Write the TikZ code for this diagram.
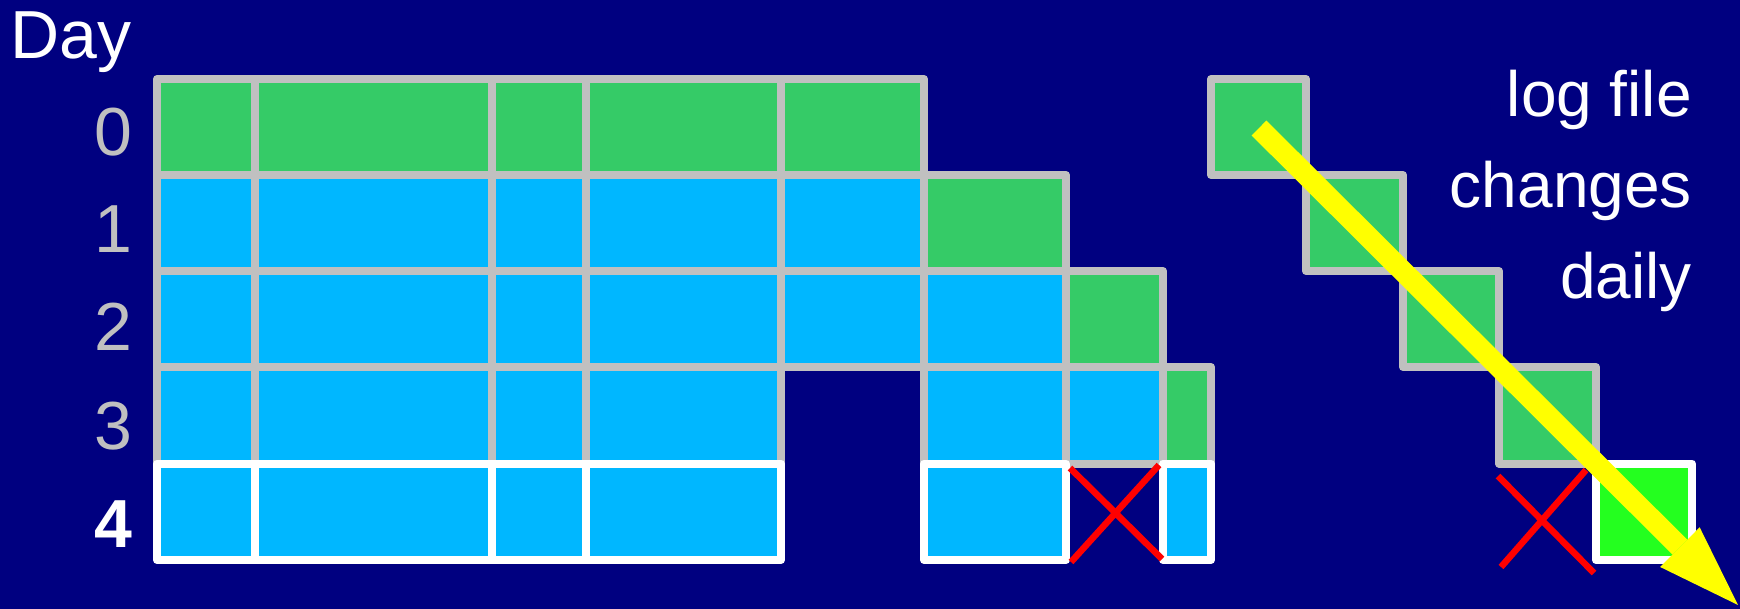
\documentclass[tikz,border=0pt]{standalone}
\usepackage{fontspec}
\setmainfont{Liberation Sans}
\usetikzlibrary{arrows.meta}
\definecolor{navybg}{RGB}{0,0,128}
\definecolor{cellgreen}{RGB}{53,203,103}
\definecolor{cellblue}{RGB}{0,183,255}
\definecolor{gridgray}{RGB}{192,192,192}
\definecolor{newgreen}{RGB}{36,255,31}
\definecolor{arrowyellow}{RGB}{255,255,0}
\newcommand{\cellbox}[6]{%
  \node[#6, minimum width={(#4)-(#2)}, minimum height={(#5)-(#3)}] (#1) at ({((#2)+(#4))/2},{((#3)+(#5))/2}) {};}
\tikzset{
  gcell/.style={draw=gridgray, line width=8pt, inner sep=0pt, outer sep=0pt, line join=round, rectangle},
  wcell/.style={draw=white, line width=8pt, inner sep=0pt, outer sep=0pt, line join=round, rectangle},
  gfill/.style={fill=cellgreen},
  bfill/.style={fill=cellblue},
  nfill/.style={fill=newgreen},
  cross/.style={draw=red, line width=6.5pt},
  daylabel/.style={text=gridgray, anchor=base east, inner sep=0pt, font=\fontsize{68}{80}\selectfont},
  sidetext/.style={text=white, anchor=base east, inner sep=0pt, font=\fontsize{64}{76}\selectfont},
  bigarrow/.style={draw=arrowyellow, line width=21pt, -{Triangle[length=82pt,width=56pt,line width=0pt]}}
}
\begin{document}
\begin{tikzpicture}[x=1pt,y=-1pt]
\useasboundingbox (0,0) rectangle (1740,609);
\fill[navybg] (0,0) rectangle (1740,609);
% row 0
\cellbox{r0c0}{157}{79}{255}{175}{gcell,gfill}
\cellbox{r0c1}{255}{79}{492}{175}{gcell,gfill}
\cellbox{r0c2}{492}{79}{586}{175}{gcell,gfill}
\cellbox{r0c3}{586}{79}{781}{175}{gcell,gfill}
\cellbox{r0c4}{781}{79}{924}{175}{gcell,gfill}
% row 1
\cellbox{r1c0}{157}{175}{255}{271}{gcell,bfill}
\cellbox{r1c1}{255}{175}{492}{271}{gcell,bfill}
\cellbox{r1c2}{492}{175}{586}{271}{gcell,bfill}
\cellbox{r1c3}{586}{175}{781}{271}{gcell,bfill}
\cellbox{r1c4}{781}{175}{924}{271}{gcell,bfill}
\cellbox{r1c5}{924}{175}{1066}{271}{gcell,gfill}
% row 2
\cellbox{r2c0}{157}{271}{255}{367}{gcell,bfill}
\cellbox{r2c1}{255}{271}{492}{367}{gcell,bfill}
\cellbox{r2c2}{492}{271}{586}{367}{gcell,bfill}
\cellbox{r2c3}{586}{271}{781}{367}{gcell,bfill}
\cellbox{r2c4}{781}{271}{924}{367}{gcell,bfill}
\cellbox{r2c5}{924}{271}{1066}{367}{gcell,bfill}
\cellbox{r2c6}{1066}{271}{1163}{367}{gcell,gfill}
% row 3
\cellbox{r3c0}{157}{367}{255}{463.5}{gcell,bfill}
\cellbox{r3c1}{255}{367}{492}{463.5}{gcell,bfill}
\cellbox{r3c2}{492}{367}{586}{463.5}{gcell,bfill}
\cellbox{r3c3}{586}{367}{781}{463.5}{gcell,bfill}
\cellbox{r3c5}{924}{367}{1066}{463.5}{gcell,bfill}
\cellbox{r3c6}{1066}{367}{1163}{463.5}{gcell,bfill}
\cellbox{r3c7}{1163}{367}{1211}{463.5}{gcell,gfill}
% row 4
\cellbox{r4c0}{157}{463.5}{255}{560}{wcell,bfill}
\cellbox{r4c1}{255}{463.5}{492}{560}{wcell,bfill}
\cellbox{r4c2}{492}{463.5}{586}{560}{wcell,bfill}
\cellbox{r4c3}{586}{463.5}{781}{560}{wcell,bfill}
\cellbox{r4c5}{924}{463.5}{1066}{560}{wcell,bfill}
\cellbox{r4c7}{1163}{463.5}{1211}{560}{wcell,bfill}
% log file staircase
\cellbox{l0}{1211}{79}{1306}{175}{gcell,gfill}
\cellbox{l1}{1306}{175}{1403}{271}{gcell,gfill}
\cellbox{l2}{1403}{271}{1499}{367}{gcell,gfill}
\cellbox{l3}{1499}{367}{1596}{463.5}{gcell,gfill}
\cellbox{l4}{1596}{463.5}{1692}{560}{wcell,nfill}
% red crosses
\coordinate (xa1) at (1070,468);
\coordinate (xa2) at (1162,559);
\coordinate (xa3) at (1159,465);
\coordinate (xa4) at (1071,562);
\draw[cross] (xa1) -- (xa2);
\draw[cross] (xa3) -- (xa4);
\coordinate (xb1) at (1498,476);
\coordinate (xb2) at (1594,573);
\coordinate (xb3) at (1586,470);
\coordinate (xb4) at (1501,567);
\draw[cross] (xb1) -- (xb2);
\draw[cross] (xb3) -- (xb4);
% yellow arrow
\coordinate (arrS) at (1259,128);
\coordinate (arrE) at (1738,605);
\draw[bigarrow] (arrS) -- (arrE);
% labels
\node[text=white, anchor=base west, inner sep=0pt, font=\fontsize{68}{80}\selectfont] (daytitle) at (10,59) {Day};
\node[daylabel] (d0) at (133,156) {0};
\node[daylabel] (d1) at (133,253) {1};
\node[daylabel] (d2) at (133,351) {2};
\node[daylabel] (d3) at (133,449) {3};
\node[daylabel, text=white, font=\fontsize{68}{80}\selectfont\bfseries] (d4) at (133,547) {4};
\node[sidetext] (t1) at (1692,117) {log file};
\node[sidetext] (t2) at (1692,208) {changes};
\node[sidetext] (t3) at (1692,299) {daily};
\end{tikzpicture}
\end{document}
